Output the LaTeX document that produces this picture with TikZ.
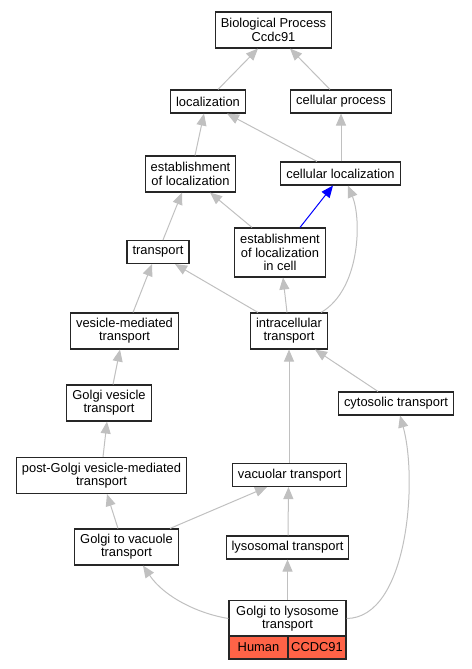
\documentclass[tikz,border=0pt]{standalone}
\usepackage{fontspec}
\setmainfont{Liberation Sans}
\usetikzlibrary{arrows.meta}
\definecolor{edgegray}{RGB}{192,192,192}
\definecolor{orgred}{RGB}{255,99,71}
\begin{document}
\begin{tikzpicture}[x=1pt,y=-1pt,
        term/.style={draw=black!85,line width=1.1pt,fill=white,align=center,
            inner xsep=5.5pt,inner ysep=0pt,minimum height=23pt,
            font=\fontsize{12.9}{13.3}\selectfont},
        two/.style={minimum height=36pt},
        three/.style={minimum height=49pt},
        org/.style={term,fill=orgred,inner xsep=0pt},
        isa/.style={draw=edgegray,line width=1pt,
            -{Triangle[length=12pt,width=10pt,fill=edgegray]}},
        partof/.style={draw=blue,line width=1pt,
            -{Triangle[length=12pt,width=10pt,fill=blue]}}]
\useasboundingbox (0,0) rectangle (471,669);

% terms
\node[term,two] (bio) at (273.5,30) {Biological Process\\Ccdc91};
\node[term] (loc) at (208,101.5) {localization};
\node[term] (cproc) at (341,101.5) {cellular process};
\node[term,two] (estloc) at (190.5,174) {establishment\\of localization};
\node[term] (cloc) at (340.5,173.5) {cellular localization};
\node[term] (transp) at (158,252) {transport};
\node[term,three] (estcell) at (280,252.5) {establishment\\of localization\\in cell};
\node[term,two] (vesic) at (124.5,331) {vesicle-mediated\\transport};
\node[term,two] (intra) at (289,331) {intracellular\\transport};
\node[term,two] (gvesic) at (109,403) {Golgi vesicle\\transport};
\node[term] (cyto) at (396,403.5) {cytosolic transport};
\node[term,two] (pgolgi) at (101.5,475.5) {post-Golgi vesicle-mediated\\transport};
\node[term] (vacu) at (289.5,475) {vacuolar transport};
\node[term,two] (gvac) at (126.5,547) {Golgi to vacuole\\transport};
\node[term] (lyso) at (287.5,547.5) {lysosomal transport};
\node[term,two,minimum width=117pt] (glyso) at (287.5,618.5) {Golgi to lysosome\\transport};
\node[org,minimum width=59pt] (human) at (258.5,647.5) {Human};
\node[org,minimum width=58pt] (gene) at (317,647.5) {CCDC91};

% edges
\draw[isa] ([xshift=10pt]loc.north) -- ([xshift=-15.5pt]bio.south);
\draw[isa] ([xshift=-11pt]cproc.north) -- ([xshift=16.5pt]bio.south);
\draw[isa] ([xshift=-23.5pt]cloc.north) -- ([xshift=19pt]loc.south);
\draw[isa] ([xshift=0.5pt]cloc.north) -- (cproc.south);
\draw[isa] ([xshift=4.5pt]estloc.north) -- ([xshift=-4pt]loc.south);
\draw[isa] ([xshift=-28pt]estcell.north) -- ([xshift=19.5pt]estloc.south);
\draw[partof] ([xshift=20pt]estcell.north) -- ([xshift=-7.5pt]cloc.south);
\draw[isa] ([xshift=32pt]intra.north) .. controls (360,290) and (362,220) .. ([xshift=7.5pt]cloc.south);
\draw[isa] ([xshift=5pt]transp.north) -- ([xshift=-8.5pt]estloc.south);
\draw[isa] ([xshift=-31pt]intra.north) -- ([xshift=17pt]transp.south);
\draw[isa] ([xshift=-2pt]intra.north) -- ([xshift=3pt]estcell.south);
\draw[isa] ([xshift=8.5pt]vesic.north) -- ([xshift=-6pt]transp.south);
\draw[isa] ([xshift=4pt]gvesic.north) -- ([xshift=-4.5pt]vesic.south);
\draw[isa] ([xshift=1.5pt]pgolgi.north) -- ([xshift=-2pt]gvesic.south);
\draw[isa] ([xshift=-8.5pt]gvac.north) -- ([xshift=5.5pt]pgolgi.south);
\draw[isa] ([xshift=43.5pt]gvac.north) -- ([xshift=-22.5pt]vacu.south);
\draw[isa] ([xshift=-0.5pt]vacu.north) -- (intra.south);
\draw[isa] ([xshift=-18pt]cyto.north) -- ([xshift=26pt]intra.south);
\draw[isa] ([xshift=0.5pt]lyso.north) -- ([xshift=-1pt]vacu.south);
\draw[isa] (glyso.north) -- (lyso.south);
\draw[isa] (glyso.west) .. controls (200,614) and (165,598) .. ([xshift=16.5pt]gvac.south);
\draw[isa] (glyso.east) .. controls (408,618) and (418,480) .. ([xshift=4pt]cyto.south);

\end{tikzpicture}
\end{document}
